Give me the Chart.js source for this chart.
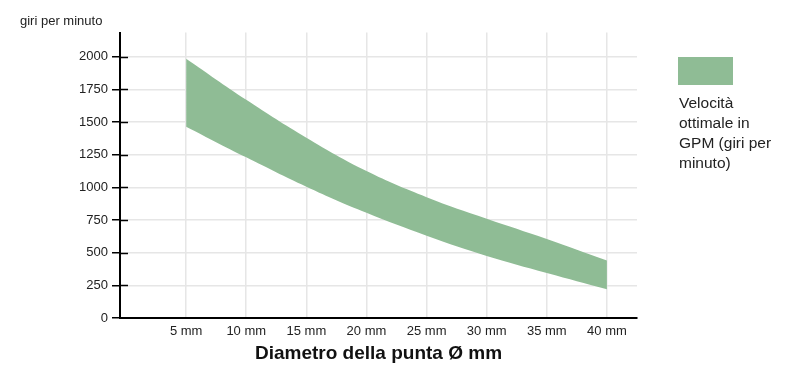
<!DOCTYPE html>
<html>
<head>
<meta charset="utf-8">
<script src="https://cdn.jsdelivr.net/npm/chart.js@4/dist/chart.umd.min.js"></script>
<style>
  html, body { margin: 0; padding: 0; background: #fff; }
  #wrap { position: relative; width: 795px; height: 365px; }
  #legend { position: absolute; left: 678px; top: 57px; font-family: "Liberation Sans", Arial, sans-serif; color: #222; }
  #legend .box { width: 55px; height: 28px; }
  #legend .txt { margin-top: 8px; margin-left: 1px; width: 100px; font-size: 15.5px; line-height: 20px; }
</style>
</head>
<body>
<div id="wrap">
  <canvas id="c" width="795" height="365"></canvas>
  <div id="legend"><div class="box"></div><div class="txt"></div></div>
</div>
<script>
// ---- data ----
const diameters = [5, 10, 15, 20, 25, 30, 35, 40];           // mm
const rpmMax = [1985, 1670, 1380, 1125, 925, 760, 605, 440]; // upper edge of band
const rpmMin = [1465, 1230, 1005, 805, 630, 475, 345, 220];  // lower edge of band
const yTicks = [0, 250, 500, 750, 1000, 1250, 1500, 1750, 2000];
const xTicks = [5, 10, 15, 20, 25, 30, 35, 40];
const seriesLabel = 'Velocità ottimale in GPM (giri per minuto)';
const yAxisTitle = 'giri per minuto';
const xAxisTitle = 'Diametro della punta Ø mm';

const GREEN = '#8fbc95';
const FONT = '"Liberation Sans", Arial, Helvetica, sans-serif';

const innerTicks = {
  id: 'innerTicks',
  afterDatasetsDraw(chart) {
    const y = chart.scales.y;
    const ctx = chart.ctx;
    ctx.save();
    ctx.strokeStyle = '#000';
    ctx.lineWidth = 1.5;
    y.ticks.forEach(t => {
      if (t.value === 0) return;
      const py = Math.round(y.getPixelForValue(t.value)) + 0.5;
      ctx.beginPath();
      ctx.moveTo(y.right, py);
      ctx.lineTo(y.right + 8, py);
      ctx.stroke();
    });
    ctx.restore();
  }
};

const chart = new Chart(document.getElementById('c'), {
  type: 'line',
  data: {
    datasets: [
      {
        label: seriesLabel,
        data: diameters.map((d, i) => ({ x: d, y: rpmMax[i] })),
        borderWidth: 0,
        borderColor: GREEN,
        backgroundColor: GREEN,
        pointRadius: 0,
        fill: '+1',
        tension: 0.4
      },
      {
        label: 'min',
        data: diameters.map((d, i) => ({ x: d, y: rpmMin[i] })),
        borderWidth: 0,
        borderColor: GREEN,
        backgroundColor: GREEN,
        pointRadius: 0,
        fill: false,
        tension: 0.4
      }
    ]
  },
  options: {
    responsive: false,
    animation: false,
    events: [],
    layout: { padding: { left: 20, right: 158, top: 14, bottom: 0 } },
    plugins: {
      legend: { display: false },
      tooltip: { enabled: false },
      title: {
        display: true,
        text: yAxisTitle,
        align: 'start',
        color: '#222',
        font: { family: FONT, size: 13, weight: 'normal' },
        padding: { top: 0, bottom: 3 }
      }
    },
    scales: {
      x: {
        type: 'linear',
        min: -0.5,
        max: 42.5,
        afterBuildTicks: s => { s.ticks = xTicks.map(v => ({ value: v })); },
        afterFit: s => { s.height = 47; },
        grid: { color: '#e6e6e6', lineWidth: 1.5, drawTicks: false },
        border: { color: '#000', width: 2 },
        ticks: {
          color: '#222',
          padding: 6,
          maxRotation: 0,
          font: { family: FONT, size: 13 },
          callback: v => v + ' mm'
        },
        title: {
          display: true,
          text: xAxisTitle,
          color: '#111',
          font: { family: FONT, size: 19, weight: 'bold' },
          padding: { top: 4, bottom: 0 }
        }
      },
      y: {
        min: 0,
        max: 2185,
        afterBuildTicks: s => { s.ticks = yTicks.map(v => ({ value: v })); },
        afterFit: s => { s.width = 100; },
        grid: { color: '#e6e6e6', lineWidth: 1.5, tickColor: '#000', tickLength: 8, tickWidth: 1.5 },
        border: { color: '#000', width: 2 },
        ticks: {
          color: '#222',
          padding: 4,
          font: { family: FONT, size: 13 },
          callback: v => String(v)
        }
      }
    }
  },
  plugins: [innerTicks]
});

// HTML legend from dataset
const ds = chart.data.datasets[0];
document.querySelector('#legend .box').style.background = ds.backgroundColor;
document.querySelector('#legend .txt').textContent = ds.label;
</script>
</body>
</html>
